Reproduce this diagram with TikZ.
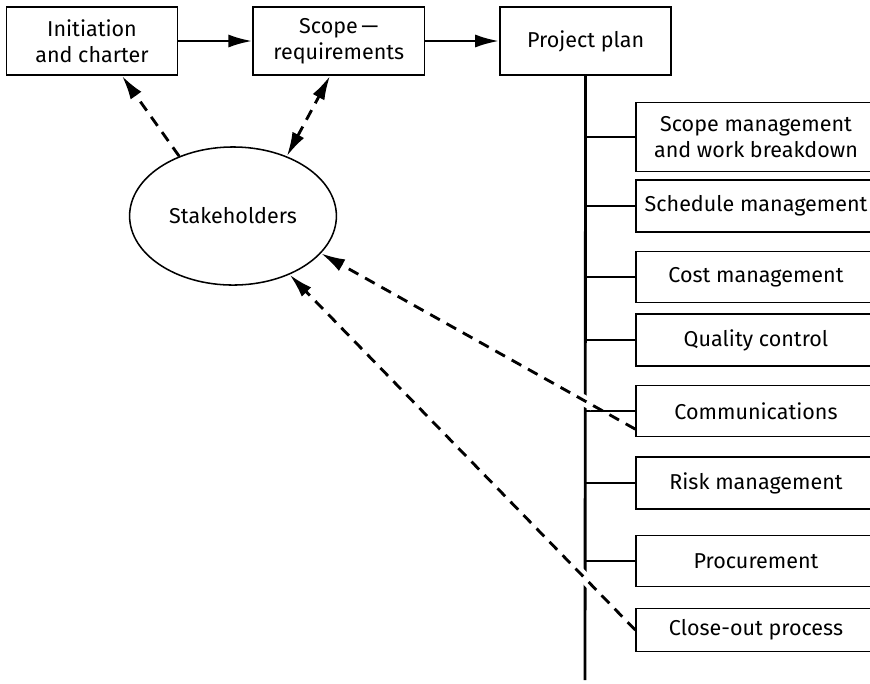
\documentclass[tikz,border=0pt]{standalone}
\usepackage{fontspec}
\setmainfont{Fira Sans}
\usetikzlibrary{arrows.meta,shapes.geometric}
\begin{document}
\begin{tikzpicture}[x=0.016cm, y=-0.016cm, node distance=3.95cm, font=\fontsize{9.8}{11.8}\selectfont]
\tikzstyle{block} = [rectangle, draw, line width=0.7pt, align=center, minimum width=2.74cm, minimum height=1.09cm, inner sep=0pt]
\tikzstyle{task} = [rectangle, draw, line width=0.7pt, align=center, minimum width=3.84cm, inner sep=0pt]
\tikzstyle{arrow} = [line width=1.3pt, ->, >={Latex[length=11pt,width=6pt]}]
\tikzstyle{link} = [arrow, dash pattern=on 5pt off 3.5pt]
\tikzstyle{gap} = [preaction={draw=white, solid, -, line width=5pt, shorten <=0.77cm, shorten >=1cm}]
\tikzstyle{spine} = [line width=1.3pt]

\useasboundingbox (0,0) rectangle (870,683);

% top row
\node (init) [block] at (92,41) {Initiation\\and charter};
\node (scope) [block, right of=init] {Scope\,—\\requirements};
\node (plan) [block, right of=scope] {Project plan};

\node (stake) [ellipse, draw, line width=0.7pt, minimum width=3.31cm, minimum height=2.21cm] at (233,216) {Stakeholders};

% plan parts
\node (scopemgmt) [task, minimum height=1.10cm] at (756,137) {Scope management\\and work breakdown};
\node (schedule) [task, minimum height=0.83cm] at (756,206) {Schedule management};
\node (cost) [task, minimum height=0.82cm] at (756,277) {Cost management};
\node (quality) [task, minimum height=0.83cm] at (756,340) {Quality control};
\node (comm) [task, minimum height=0.82cm] at (756,411) {Communications};
\node (risk) [task, minimum height=0.83cm] at (756,483) {Risk management};
\node (proc) [task, minimum height=0.82cm] at (756,561) {Procurement};
\node (close) [task, minimum height=0.69cm] at (756,630) {Close-out process};
\coordinate (bottom) at (585,680);

\draw [arrow] (init) -- (scope);
\draw [arrow] (scope) -- (plan);
\draw [spine] (plan.south) -- (bottom);
\foreach \n in {scopemgmt,schedule,cost,quality,comm,risk,proc}
  \draw [spine] (plan.south |- \n.west) -- (\n.west);

% stakeholder links
\draw [link] (stake.132) -- ([xshift=0.48cm]init.south);
\draw [link, <->] (stake.48) -- ([xshift=-0.14cm]scope.south);
\draw [link, gap] ([yshift=-0.29cm]comm.west) -- (stake.-23);
\draw [link, gap] (close.west) -- (stake.-46);
\end{tikzpicture}
\end{document}
